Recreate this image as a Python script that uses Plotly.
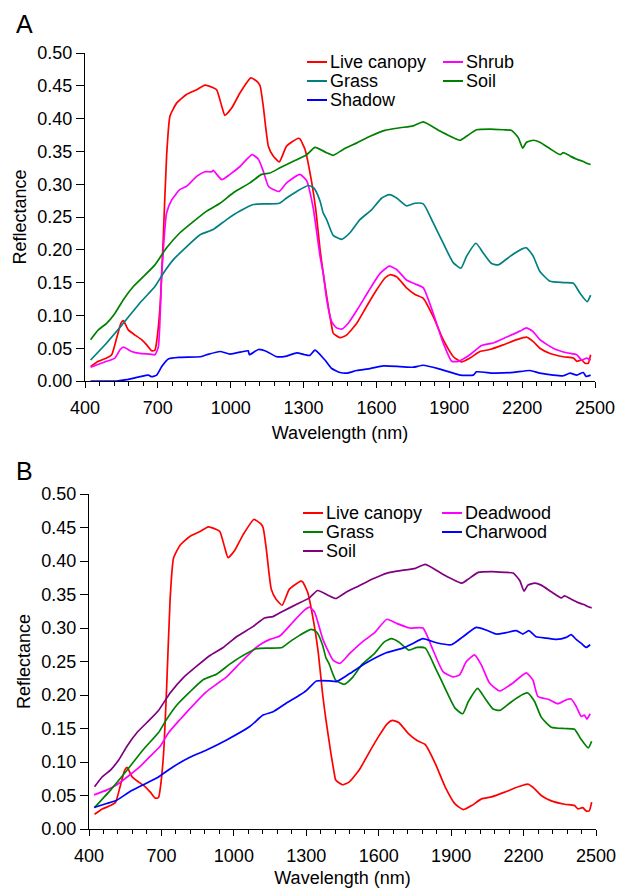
import plotly.graph_objects as go

# ---------------- data ----------------
canopy_wl = [423, 455, 489, 510, 530, 548, 558, 578, 606, 633, 654, 675, 688, 695, 709, 722, 736, 750, 778, 819,
             860, 894, 928, 942, 963, 976, 1004, 1038, 1083, 1110, 1121, 1134, 1155, 1175, 1200, 1230, 1278, 1285,
             1306, 1333, 1350, 1368, 1381, 1402, 1415, 1422, 1450, 1477, 1519, 1560, 1601, 1635, 1656, 1683, 1724,
             1759, 1793, 1834, 1875, 1917, 1951, 1985, 2026, 2068, 2122, 2178, 2218, 2246, 2273, 2315, 2370, 2411,
             2425, 2445, 2459, 2472, 2482]
canopy = [0.022, 0.030, 0.035, 0.040, 0.065, 0.088, 0.092, 0.078, 0.070, 0.063, 0.055, 0.046, 0.047, 0.060, 0.113,
          0.215, 0.343, 0.404, 0.424, 0.437, 0.444, 0.451, 0.447, 0.444, 0.419, 0.405, 0.416, 0.439, 0.462, 0.456,
          0.450, 0.419, 0.358, 0.343, 0.334, 0.358, 0.370, 0.369, 0.353, 0.304, 0.262, 0.200, 0.164, 0.113, 0.085,
          0.073, 0.066, 0.070, 0.088, 0.114, 0.139, 0.157, 0.162, 0.159, 0.142, 0.132, 0.126, 0.098, 0.063, 0.037,
          0.029, 0.035, 0.045, 0.048, 0.055, 0.063, 0.067, 0.060, 0.050, 0.042, 0.037, 0.035, 0.030, 0.032, 0.027,
          0.027, 0.040]

shrub_wl = [423, 489, 523, 545, 558, 592, 626, 668, 688, 702, 716, 736, 757, 791, 819, 860, 894, 922, 928, 963, 997,
            1038, 1088, 1114, 1134, 1155, 1175, 1200, 1230, 1285, 1313, 1340, 1368, 1381, 1395, 1416, 1436, 1457, 1484,
            1525, 1566, 1615, 1653, 1683, 1724, 1759, 1793, 1834, 1875, 1910, 1937, 1985, 2033, 2081, 2136, 2191,
            2218, 2246, 2273, 2328, 2383, 2425, 2445, 2466, 2482]
shrub = [0.021, 0.030, 0.035, 0.048, 0.0515, 0.045, 0.042, 0.041, 0.040, 0.052, 0.164, 0.256, 0.276, 0.292, 0.297,
         0.312, 0.319, 0.319, 0.321, 0.307, 0.315, 0.327, 0.345, 0.338, 0.320, 0.297, 0.292, 0.289, 0.302, 0.315,
         0.305, 0.263, 0.190, 0.164, 0.125, 0.090, 0.081, 0.079, 0.088, 0.111, 0.136, 0.164, 0.175, 0.170, 0.154,
         0.148, 0.142, 0.103, 0.058, 0.030, 0.030, 0.040, 0.054, 0.058, 0.067, 0.076, 0.081, 0.075, 0.063, 0.050,
         0.043, 0.040, 0.032, 0.035, 0.032]

grass_wl = [423, 489, 558, 626, 688, 722, 764, 819, 874, 928, 983, 1038, 1093, 1148, 1200, 1230, 1272, 1319, 1340,
            1347, 1368, 1381, 1395, 1422, 1457, 1491, 1532, 1580, 1622, 1653, 1683, 1724, 1759, 1793, 1834, 1875,
            1917, 1948, 1971, 2010, 2040, 2074, 2102, 2150, 2198, 2218, 2246, 2273, 2315, 2370, 2411, 2438, 2468, 2482]
grass = [0.032, 0.058, 0.088, 0.119, 0.144, 0.164, 0.185, 0.205, 0.223, 0.231, 0.246, 0.259, 0.269, 0.270, 0.271,
         0.279, 0.289, 0.298, 0.295, 0.292, 0.274, 0.256, 0.246, 0.222, 0.216, 0.226, 0.246, 0.261, 0.279, 0.284,
         0.279, 0.267, 0.271, 0.270, 0.241, 0.210, 0.180, 0.172, 0.190, 0.210, 0.195, 0.179, 0.177, 0.190, 0.201,
         0.203, 0.190, 0.167, 0.152, 0.150, 0.149, 0.134, 0.121, 0.131]

soil_wl = [423, 455, 489, 523, 558, 599, 640, 688, 736, 791, 846, 901, 956, 1011, 1079, 1127, 1162, 1203, 1258, 1313,
           1347, 1395, 1422, 1463, 1519, 1574, 1635, 1697, 1752, 1793, 1862, 1944, 1971, 2012, 2068, 2122, 2157, 2184,
           2202, 2218, 2246, 2273, 2315, 2356, 2370, 2397, 2425, 2449, 2466, 2482]
soil = [0.063, 0.078, 0.088, 0.103, 0.124, 0.144, 0.159, 0.177, 0.203, 0.226, 0.243, 0.259, 0.271, 0.287, 0.302,
        0.315, 0.317, 0.325, 0.335, 0.345, 0.356, 0.348, 0.344, 0.353, 0.363, 0.373, 0.382, 0.386, 0.389, 0.395,
        0.381, 0.367, 0.373, 0.383, 0.384, 0.383, 0.382, 0.371, 0.355, 0.364, 0.367, 0.364, 0.354, 0.345, 0.348,
        0.343, 0.338, 0.335, 0.332, 0.330]

shadow_wl = [423, 530, 571, 626, 661, 675, 695, 716, 743, 791, 874, 901, 956, 997, 1052, 1072, 1077, 1114, 1148, 1189,
             1230, 1272, 1306, 1326, 1347, 1388, 1416, 1450, 1477, 1519, 1574, 1628, 1697, 1752, 1793, 1862, 1944,
             1999, 2012, 2081, 2163, 2232, 2273, 2328, 2370, 2397, 2425, 2452, 2463, 2482]
shadow = [0.000, 0.000, 0.002, 0.0066, 0.009, 0.0066, 0.009, 0.022, 0.0336, 0.036, 0.037, 0.040, 0.045, 0.041, 0.045,
          0.046, 0.040, 0.048, 0.045, 0.037, 0.038, 0.043, 0.040, 0.039, 0.047, 0.032, 0.019, 0.013, 0.012, 0.016,
          0.019, 0.023, 0.022, 0.021, 0.024, 0.018, 0.009, 0.009, 0.014, 0.012, 0.013, 0.016, 0.012, 0.009, 0.008,
          0.012, 0.009, 0.013, 0.007, 0.009]

deadwood_wl = [421, 473, 515, 570, 611, 652, 694, 728, 776, 832, 887, 928, 970, 1024, 1080, 1108, 1149, 1190, 1245,
               1294, 1314, 1335, 1369, 1411, 1439, 1480, 1535, 1583, 1634, 1673, 1728, 1783, 1825, 1866, 1907, 1935,
               1963, 1997, 2025, 2059, 2101, 2156, 2211, 2239, 2259, 2307, 2342, 2377, 2397, 2418, 2439, 2452, 2462,
               2476]
deadwood = [0.051, 0.058, 0.066, 0.081, 0.093, 0.108, 0.123, 0.143, 0.163, 0.185, 0.205, 0.216, 0.227, 0.247, 0.267,
            0.275, 0.283, 0.288, 0.309, 0.327, 0.331, 0.323, 0.283, 0.252, 0.247, 0.262, 0.280, 0.293, 0.313, 0.307,
            0.300, 0.300, 0.267, 0.235, 0.227, 0.230, 0.250, 0.260, 0.245, 0.218, 0.206, 0.218, 0.233, 0.222, 0.198,
            0.193, 0.187, 0.193, 0.194, 0.183, 0.168, 0.170, 0.164, 0.172]

charwood_wl = [421, 473, 515, 570, 625, 680, 749, 818, 887, 970, 1066, 1121, 1163, 1218, 1273, 1301, 1342, 1397, 1425,
               1480, 1549, 1631, 1700, 1742, 1783, 1839, 1901, 1949, 2004, 2045, 2087, 2128, 2170, 2197, 2222, 2252,
               2294, 2335, 2377, 2397, 2418, 2439, 2459, 2476]
charwood = [0.032, 0.038, 0.043, 0.056, 0.066, 0.076, 0.093, 0.107, 0.118, 0.133, 0.153, 0.170, 0.175, 0.188, 0.200,
            0.207, 0.221, 0.221, 0.220, 0.232, 0.248, 0.263, 0.270, 0.277, 0.284, 0.278, 0.275, 0.287, 0.301, 0.297,
            0.291, 0.293, 0.296, 0.291, 0.296, 0.287, 0.285, 0.283, 0.286, 0.290, 0.283, 0.277, 0.271, 0.275]

x_ticks = [400, 700, 1000, 1300, 1600, 1900, 2200, 2500]
y_ticks = [0.00, 0.05, 0.10, 0.15, 0.20, 0.25, 0.30, 0.35, 0.40, 0.45, 0.50]

# ---------------- styling ----------------
# the page body margin is removed by a small post script, so the figure fills the window
OX, OY = 0, 0
W, H = 617, 888
FONT = "Liberation Sans, Arial, Helvetica, sans-serif"
FS = 18
RED, MAGENTA, TEAL, GREEN, BLUE, PURPLE = "#ff0000", "#ff00ff", "#008080", "#008000", "#0000ff", "#800080"


def px(x):
    return (x - OX) / W


def py(y):
    return 1 - (y - OY) / H


panel_a = [("Live canopy", canopy_wl, canopy, RED), ("Shrub", shrub_wl, shrub, MAGENTA),
           ("Grass", grass_wl, grass, TEAL), ("Soil", soil_wl, soil, GREEN),
           ("Shadow", shadow_wl, shadow, BLUE)]
panel_b = [("Live canopy", canopy_wl, canopy, RED), ("Deadwood", deadwood_wl, deadwood, MAGENTA),
           ("Grass", grass_wl, grass, GREEN), ("Charwood", charwood_wl, charwood, BLUE),
           ("Soil", soil_wl, soil, PURPLE)]

fig = go.Figure()
for name, xs, ys, col in panel_a:
    fig.add_trace(go.Scatter(x=xs, y=ys, mode="lines", name=name,
                             line=dict(color=col, width=1.7, shape="spline", smoothing=0.5),
                             xaxis="x", yaxis="y", showlegend=False))
for name, xs, ys, col in panel_b:
    fig.add_trace(go.Scatter(x=xs, y=ys, mode="lines", name=name,
                             line=dict(color=col, width=1.7, shape="spline", smoothing=0.5),
                             xaxis="x2", yaxis="y2", showlegend=False))


def xax(domain, anchor):
    return dict(domain=domain, anchor=anchor, range=[400, 2500], tickvals=x_ticks, automargin=False,
                ticks="outside", ticklen=6, tickwidth=1, tickcolor="black", ticklabelstandoff=4,
                showline=True, linecolor="black", linewidth=1, showgrid=False, zeroline=False,
                minor=dict(tick0=400, dtick=60, ticks="outside", ticklen=4, tickcolor="black", showgrid=False),
                tickfont=dict(size=FS, color="black", family=FONT),
                title=dict(text="Wavelength (nm)", font=dict(size=FS, color="black", family=FONT), standoff=9))


def yax(domain, anchor):
    return dict(domain=domain, anchor=anchor, range=[0, 0.5], tickvals=y_ticks, tickformat=".2f",
                automargin=False,
                ticks="outside", ticklen=8, tickwidth=1, tickcolor="black",
                showline=True, linecolor="black", linewidth=1, showgrid=False, zeroline=False,
                tickfont=dict(size=FS, color="black", family=FONT),
                title=dict(text="Reflectance", font=dict(size=FS, color="black", family=FONT), standoff=6))


fig.update_layout(
    width=W, height=H, margin=dict(l=0, r=0, t=0, b=0),
    paper_bgcolor="white", plot_bgcolor="white",
    font=dict(family=FONT, color="black", size=FS),
    xaxis=xax([px(85), px(595)], "y"),
    yaxis=yax([py(381), py(53)], "x"),
    xaxis2=xax([px(89), px(596)], "y2"),
    yaxis2=yax([py(829), py(494)], "x2"),
)

# panel letters
fig.add_annotation(text="A", x=px(14), y=py(24), xref="paper", yref="paper", xanchor="left",
                   yanchor="middle", showarrow=False, font=dict(size=25, family=FONT, color="black"))
fig.add_annotation(text="B", x=px(14), y=py(471), xref="paper", yref="paper", xanchor="left",
                   yanchor="middle", showarrow=False, font=dict(size=25, family=FONT, color="black"))

# legends (two columns per panel): (entry index, line start x px, row y px)
legend_layout = [
    (panel_a, [(0, 307, 62), (2, 307, 81), (4, 307, 100), (1, 443, 62), (3, 443, 81)]),
    (panel_b, [(0, 303, 513), (2, 303, 532), (4, 303, 551), (1, 442, 513), (3, 442, 532)]),
]
for panel, entries in legend_layout:
    for idx, lx, ly in entries:
        name, _, _, col = panel[idx]
        fig.add_shape(type="line", xref="paper", yref="paper", x0=px(lx), x1=px(lx + 20),
                      y0=py(ly), y1=py(ly), line=dict(color=col, width=2))
        fig.add_annotation(text=name, x=px(lx + 22), y=py(ly), xref="paper", yref="paper",
                           xanchor="left", yanchor="middle", showarrow=False, borderpad=0,
                           font=dict(size=FS, family=FONT, color="black"))

fig.write_html("out.html", config={"displayModeBar": False},
               post_script="document.body.style.margin='0px';document.body.style.overflow='hidden';")
